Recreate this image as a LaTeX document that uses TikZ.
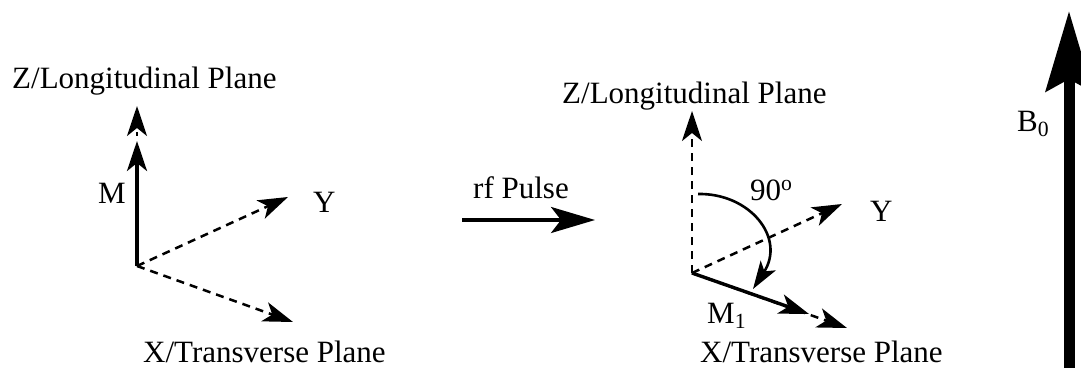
\documentclass[tikz,border=0pt]{standalone}
\usepackage{fontspec}
\setmainfont{Liberation Serif}
\usetikzlibrary{arrows.meta}
\tikzset{
  lbl/.style={anchor=base west, inner sep=0pt, font=\fontsize{31}{37}\selectfont},
  axis/.style={line width=2.5pt, dash pattern=on 8pt off 6pt, -{Stealth[length=30pt,width=20pt,inset=8pt]}},
  vec/.style={line width=3.4pt, -{Stealth[length=30pt,width=20pt,inset=8pt]}},
}
\begin{document}
\begin{tikzpicture}[x=1pt,y=-1pt]
\useasboundingbox (0,0) rectangle (1081,367);
% left diagram
\coordinate (O1) at (137,266);
\coordinate (Z1) at (137,106);
\coordinate (M1t) at (137,141);
\coordinate (Y1) at (288,197);
\coordinate (X1) at (293,322);
\draw[axis] (O1) -- (Z1);
\fill[white] (131,136) rectangle (143,150);
\draw[vec] (O1) -- (M1t);
\draw[axis] (O1) -- (Y1);
\draw[axis] (O1) -- (X1);
\node[lbl] (zl) at (12,88) {Z/Longitudinal Plane};
\node[lbl] (ml) at (98,203) {M};
\node[lbl] (yl) at (313,212) {Y};
\node[lbl] (xl) at (143,362) {X/Transverse Plane};
% rf pulse
\coordinate (R1) at (462,220);
\coordinate (R2) at (595,220);
\draw[line width=3.4pt, -{Stealth[length=44pt,width=26pt,inset=10pt]}] (R1) -- (R2);
\node[lbl] (rf) at (473,198) {rf Pulse};
% right diagram
\coordinate (O2) at (692,273);
\coordinate (Z2) at (692,111);
\coordinate (Y2) at (842,204);
\coordinate (X2) at (847,328);
\coordinate (M2t) at (809,314);
\coordinate (A1) at (698,194);
\coordinate (A2) at (753,289);
\draw[axis] (O2) -- (Z2);
\draw[axis] (O2) -- (Y2);
\draw[axis] (O2) -- (X2);
\draw[vec] (O2) -- (M2t);
\draw[line width=2.6pt, -{Stealth[length=28pt,width=18pt,inset=7pt]}] (A1) .. controls (750,193) and (786,238) .. (A2);
\node[lbl] (zr) at (562,103) {Z/Longitudinal Plane};
\node[lbl] (ang) at (750,200) {90\textsuperscript{o}};
\node[lbl] (yr) at (870,221) {Y};
\node[lbl] (mr) at (707,323) {M\textsubscript{1}};
\node[lbl] (xr) at (700,362) {X/Transverse Plane};
% B0
\coordinate (B1) at (1069,380);
\coordinate (B2) at (1069,11);
\draw[line width=11pt, -{Stealth[length=80pt,width=46pt,inset=12pt]}] (B1) -- (B2);
\node[lbl] (b0) at (1017,131) {B\textsubscript{0}};
\end{tikzpicture}
\end{document}
